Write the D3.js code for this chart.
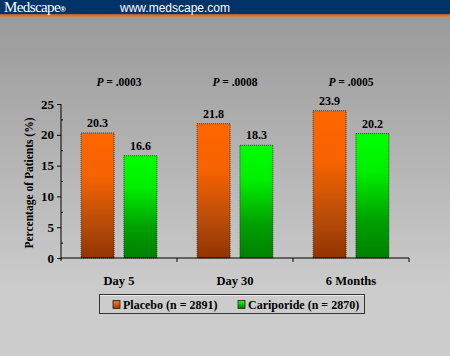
<!DOCTYPE html>
<html><head><meta charset="utf-8">
<script src="https://cdn.jsdelivr.net/npm/d3@7"></script>
<style>body{margin:0;padding:0;overflow:hidden;background:#ccc}svg{display:block}</style>
</head><body><div id="chart"></div>
<script>
const categories = ["Day 5", "Day 30", "6 Months"];
const seriesNames = ["Placebo (n = 2891)", "Cariporide (n = 2870)"];
const placebo = [20.3, 21.8, 23.9];
const cariporide = [16.6, 18.3, 20.2];
const pValues = [".0003", ".0008", ".0005"];
const yTicks = [0, 5, 10, 15, 20, 25];

(function () {
const W = 450, H = 356;
const svg = d3.select("#chart").append("svg").attr("width", W).attr("height", H);
const defs = svg.append("defs");

const bg = defs.append("linearGradient").attr("id", "bg").attr("x1", 0).attr("y1", 0).attr("x2", 0).attr("y2", 1);
bg.append("stop").attr("offset", "0%").attr("stop-color", "#979797");
bg.append("stop").attr("offset", "80%").attr("stop-color", "#cbcbcb");
bg.append("stop").attr("offset", "100%").attr("stop-color", "#cccccc");

const og = defs.append("linearGradient").attr("id", "og").attr("x1", 0).attr("y1", 0).attr("x2", 0).attr("y2", 1);
og.append("stop").attr("offset", "0%").attr("stop-color", "#ff6600");
og.append("stop").attr("offset", "35%").attr("stop-color", "#f56200");
og.append("stop").attr("offset", "75%").attr("stop-color", "#b44a0a");
og.append("stop").attr("offset", "100%").attr("stop-color", "#933300");

const gg = defs.append("linearGradient").attr("id", "gg").attr("x1", 0).attr("y1", 0).attr("x2", 0).attr("y2", 1);
gg.append("stop").attr("offset", "0%").attr("stop-color", "#00ff00");
gg.append("stop").attr("offset", "30%").attr("stop-color", "#00f000");
gg.append("stop").attr("offset", "70%").attr("stop-color", "#00a000");
gg.append("stop").attr("offset", "100%").attr("stop-color", "#008000");

svg.append("rect").attr("width", W).attr("height", H).attr("fill", "url(#bg)");

// header
svg.append("rect").attr("x", 0).attr("y", 0).attr("width", W).attr("height", 14.5).attr("fill", "#003366");
svg.append("rect").attr("x", 0).attr("y", 14.5).attr("width", W).attr("height", 2).attr("fill", "#ff6600");
const mt = svg.append("text").attr("x", 4).attr("y", 11.5).attr("fill", "#fff")
  .style("font-family", "Liberation Serif").style("font-size", "15px").style("letter-spacing", "-0.6px");
mt.append("tspan").text("Medscape");
mt.append("tspan").style("font-size", "8px").style("font-family", "Liberation Sans").style("font-weight", "bold").text("®");
svg.append("text").attr("x", 120).attr("y", 11.5).attr("fill", "#fff")
  .style("font-family", "Liberation Sans").style("font-size", "12px").text("www.medscape.com");

const pl = 61, pr = 409, pt0 = 104, pb = 258;
const x0 = d3.scaleBand().domain(categories).range([pl, pr]).paddingInner(0).paddingOuter(0);
const x1 = d3.scaleBand().domain(seriesNames).range([0, x0.bandwidth()]).paddingInner(0.23).paddingOuter(0.47);
const y = d3.scaleLinear().domain([0, 25]).range([pb, pt0]);

const serif = "Liberation Serif";
const data = categories.map((c, i) => ({ c, vals: [placebo[i], cariporide[i]] }));
const fills = ["url(#og)", "url(#gg)"];

const g = svg.append("g");
data.forEach((d, i) => {
  d.vals.forEach((v, j) => {
    const bx = x0(d.c) + x1(seriesNames[j]);
    g.append("rect").attr("x", bx).attr("y", y(v)).attr("width", x1.bandwidth()).attr("height", y(0) - y(v))
      .attr("fill", fills[j]).attr("stroke", "#222").attr("stroke-width", 0.8).attr("stroke-dasharray", "1,1");
    g.append("text").attr("x", bx + x1.bandwidth() / 2).attr("y", y(v) - 6)
      .attr("text-anchor", "middle").style("font-family", serif).style("font-weight", "bold")
      .style("font-size", "12px").attr("fill", "#000").text(v.toFixed(1));
  });
  const pt = g.append("text").attr("x", x0(d.c) + x0.bandwidth() / 2).attr("y", 86)
    .attr("text-anchor", "middle").style("font-family", serif).style("font-weight", "bold")
    .style("font-size", "11.5px").attr("fill", "#000");
  pt.append("tspan").style("font-style", "italic").text("P");
  pt.append("tspan").text(" = " + pValues[i]);
});

// y axis
const yAxis = d3.axisLeft(y).tickValues(yTicks).tickSize(4).tickPadding(3).tickFormat(d3.format("d"));
const ya = svg.append("g").attr("transform", `translate(${pl},0)`).call(yAxis);
ya.select(".domain").attr("stroke", "#000").attr("d", `M0,${pt0}V${pb + 3}`);
ya.selectAll(".tick line").attr("stroke", "#000");
ya.selectAll("text").style("font-family", serif).style("font-weight", "bold").style("font-size", "13px").attr("fill", "#000");
const yMinor = d3.axisRight(y).tickValues([2.5, 7.5, 12.5, 17.5, 22.5]).tickSize(2).tickFormat("");
const ym = svg.append("g").attr("transform", `translate(${pl},0)`).call(yMinor);
ym.select(".domain").remove();
ym.selectAll(".tick line").attr("stroke", "#000");

// x axis
const xa = svg.append("g").attr("transform", `translate(0,${pb})`)
  .call(d3.axisBottom(x0).tickSize(0).tickPadding(18));
xa.select(".domain").attr("stroke", "#000").attr("d", `M${pl},0H${pr}`);
xa.selectAll("text").style("font-family", serif).style("font-weight", "bold").style("font-size", "12.5px").attr("fill", "#000");
categories.forEach(c => {
  svg.append("line").attr("x1", x0(c) + x0.bandwidth()).attr("x2", x0(c) + x0.bandwidth())
    .attr("y1", pb).attr("y2", pb + 4).attr("stroke", "#000");
});

// y label
svg.append("text").attr("transform", `translate(33,${(pt0 + pb) / 2 + 2}) rotate(-90)`)
  .attr("text-anchor", "middle").style("font-family", serif).style("font-weight", "bold")
  .style("font-size", "11.5px").attr("fill", "#000").text("Percentage of Patients (%)");

// legend
const lg = svg.append("g");
lg.append("rect").attr("x", 99.5).attr("y", 294.5).attr("width", 265).attr("height", 19)
  .attr("fill", "#cccccc").attr("stroke", "#333").attr("stroke-width", 1);
lg.append("line").attr("x1", 100.5).attr("x2", 363.5).attr("y1", 295.5).attr("y2", 295.5).attr("stroke", "#eee");
const legendX = [113, 238];
seriesNames.forEach((s, j) => {
  lg.append("rect").attr("x", legendX[j]).attr("y", 300.5).attr("width", 7).attr("height", 8)
    .attr("fill", fills[j]).attr("stroke", "#222").attr("stroke-width", 0.8);
  lg.append("text").attr("x", legendX[j] + 10).attr("y", 309)
    .style("font-family", serif).style("font-weight", "bold").style("font-size", "12px").attr("fill", "#000").text(s);
});
})();
</script></body></html>
